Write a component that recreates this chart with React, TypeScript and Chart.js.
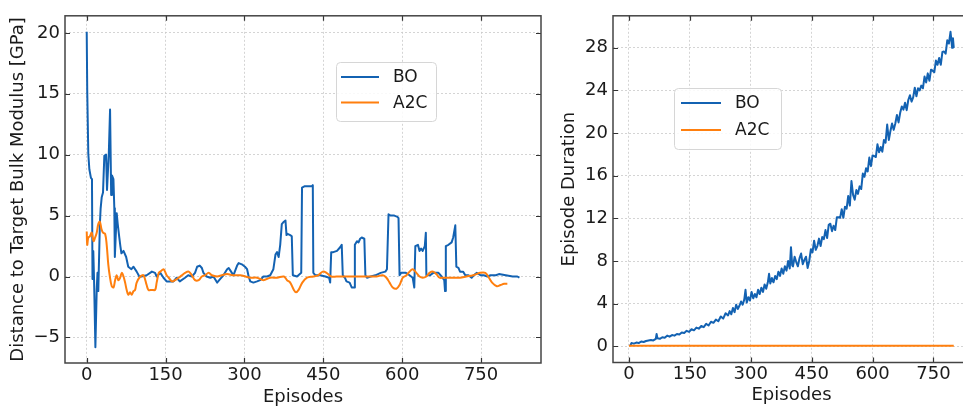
import React, { useEffect, useRef } from "react";
import { Chart, registerables } from "chart.js";
Chart.register(...registerables);

const FONT = '"DejaVu Sans", "Liberation Sans", sans-serif';
const BLUE = "#1362b2";
const ORANGE = "#ff7f0e";

// ---------- Left panel: distance to target bulk modulus ----------
const leftBoEpisodes = [0,1,3,5,8,10,11,12.5,14,16.5,19,20.5,22,25,26.5,28.5,31,33.5,36.8,38.6,42,44.4,45.7,46.5,48,50.8,52.5,53.5,57,59,62,64,66,70,75,79,85,89,95,100,104,114,124,130,133,140,146,152,165,171,177,187,193,200,206,210,215,219,222,228,235,241,248,254,260,267,270,273,279,286,289,295,301,305,308,311,317,324,330,336,343,349,355,359,362,365,368,371,375,378,380,382,387,390,392,400,408,409.5,414,428,430,431,435,444,454,461,463,465,469,476,482,485,487,491,494,500,504,509,510,514,517,520,523,528,530,533,540,549,559,568,571,574,578,585,591,593,595,598,607,614,620,623,625,630,633,636,639,643,645,646,653,659,669,675,680,681.5,683,688,694,697,701,703,707,710,716,720,726,732,736,742,749,755,762,768,778,784,797,810,819,823];
const leftBoValues = [20.1,15.2,10.1,8.8,8.1,8.0,-0.2,2.1,-0.3,-5.8,-1.1,0.3,-1.2,4.3,5.6,6.5,6.9,9.9,10.0,7.1,10.1,13.7,13.7,6.7,8.3,8.0,5.6,1.6,5.2,4.3,3.2,2.5,1.9,2.1,1.6,0.8,0.6,0.8,0.4,0,0,0.1,0.4,0.3,0,0.3,-0.1,-0.4,-0.4,-0.1,-0.4,-0.1,0.1,0,0.3,0.8,0.9,0.7,0.3,0,-0.1,0,-0.5,-0.2,0.1,0.6,0.7,0.5,0.1,0.9,1.1,1.0,0.8,0.6,0,-0.4,-0.5,-0.4,-0.3,0,0,0.1,0.6,1.8,2.0,1.6,2.6,4.3,4.5,4.6,3.4,3.5,3.4,3.3,0.1,0,0.3,7.3,7.4,7.4,7.5,0.3,0.1,0.1,0,-0.1,-0.5,2.0,2.0,2.1,2.4,2.6,0.1,-0.1,-0.4,-0.5,-0.9,-0.9,2.6,2.9,2.8,3.1,3.2,3.1,0.1,-0.1,0,0.1,0.3,0.4,0.6,5.1,5.0,5.0,4.9,4.8,0.1,0.3,0.3,0.1,-0.1,-0.9,2.5,2.6,2.1,2.3,2.1,2.5,3.6,0.1,0.1,0.3,0.3,0,-0.3,-1.2,2.5,2.6,2.8,3.2,4.2,0.8,0.7,0.4,0.4,0.1,0.1,-0.1,0.1,0.3,0.1,0.1,0,0.1,0.1,0.2,0.1,0,0,-0.1];
const leftA2cEpisodes = [0,1,3,6,9.5,13,16,19,22,25,28,31,35,38,41,44,47.6,51,54,57,60,63.5,66.7,70,73,76,79,82.4,85.6,89,92,95,102,108,114,117.5,124,130,133,137,140,146,149,152,156,162,168,175,181,187,194,200,206,213,219,225,232,238,248,257,267,279,292,302,311,324,336,349,362,375,381,387,394,398,403,410,419,431,440,449,456,465,475,487,500,513,525,538,551,563,570,576,582,589,595,601,608,614,620,627,633,639,646,652,659,665,671,678,684,697,710,722,735,748,758,765,771,780,787,794,800];
const leftA2cValues = [3.7,2.6,3.2,3.3,3.6,2.9,3.2,3.6,4.3,4.5,3.9,3.6,3.5,2.6,1.0,0,-0.8,-0.9,-0.3,0.1,-0.3,-0.1,0.3,0,-0.5,-1.1,-1.5,-1.3,-1.5,-1.2,-1.1,-0.5,0,0.1,-0.7,-1.1,-1.1,-1.1,-0.5,0.3,0.4,0.6,0.4,0.1,-0.1,-0.4,-0.3,-0.1,0.1,0.3,0.4,0.1,-0.3,-0.3,0,0.1,0.3,0.1,0,0.1,0.2,0.1,0.1,0,-0.1,-0.1,-0.3,-0.1,-0.1,0,-0.3,-0.5,-1.1,-1.3,-1.1,-0.5,-0.1,0,0.1,0.4,0.3,0,0,0,0,0,0,0,0,0.1,-0.1,-0.5,-0.9,-1.0,-0.7,-0.1,0.1,0.4,0.6,0.3,0,-0.1,0,0.3,0.4,0.2,-0.1,-0.1,-0.1,-0.1,-0.1,0,0.1,0.3,0.3,-0.1,-0.5,-0.8,-0.7,-0.6,-0.6];
const leftXTicks = [0, 150, 300, 450, 600, 750];
const leftYTicks = [-5, 0, 5, 10, 15, 20];

// ---------- Right panel: episode duration ----------
const rightBoEpisodes = [3,6,12,18,24,30,36,42,48,54,60,66,68,70,76,82,88,94,100,106,112,118,124,130,136,142,148,154,160,166,172,178,184,190,196,202,208,214,220,226,232,238,
  244,248,252,256,260,264,268,272,276,280,284,287,290,294,298,302,306,310,314,318,322,326,330,334,338,342,345,348,352,356,360,364,368,372,376,380,384,388,392,396,399,402,
  404,408,412,416,420,424,428,432,436,440,444,448,452,456,460,464,468,472,476,480,484,488,492,496,500,504,508,512,516,520,524,528,532,536,540,544,548,552,556,
  560,564,568,572,576,580,584,588,592,596,600,604,608,612,616,620,624,628,632,636,640,644,648,652,656,660,664,668,672,676,680,684,688,692,696,700,704,708,712,716,
  720,724,728,732,736,740,744,748,752,756,760,764,768,772,776,780,784,788,792,796,798,800];
const rightBoValues = [0.05,0.3,0.25,0.35,0.3,0.45,0.4,0.5,0.55,0.6,0.55,0.7,1.15,0.75,0.7,0.85,0.8,1.0,0.9,1.05,1.0,1.15,1.1,1.3,1.25,1.45,1.35,1.6,1.5,1.75,1.65,1.9,1.8,2.1,1.95,2.3,2.2,2.5,2.35,2.8,2.6,3.1,
  2.9,3.3,3.0,3.6,3.2,3.9,3.5,3.8,4.2,3.9,4.4,5.3,4.1,4.6,4.3,5.1,4.5,4.9,4.6,5.3,4.9,5.5,5.1,5.8,5.4,6.0,6.8,5.9,6.4,6.0,6.6,6.3,7.0,6.6,7.3,6.8,7.5,7.1,8.0,7.3,9.3,7.6,
  7.5,8.4,7.9,7.5,8.25,8.7,7.7,8.1,8.4,7.35,8.0,9.1,8.8,9.9,9.05,9.4,10.1,9.4,10.25,10.05,10.9,10.15,11.4,11.5,10.8,11.3,10.9,12.1,12.1,12.05,12.85,12.05,13.1,12.9,14.1,13.2,15.5,14.2,13.75,
  14.65,14.3,15.0,14.75,16.2,15.9,16.7,16.4,17.7,16.9,17.9,17.85,17.75,18.95,18.2,18.7,18.25,19.35,19.1,20.8,19.35,20.2,20.9,20.3,20.9,21.7,21.0,21.9,22.5,22.2,22.85,22.15,23.1,23.55,22.95,23.35,24.25,23.45,24.2,24.0,
  24.45,24.2,25.3,24.75,25.6,24.9,25.95,25.85,25.7,26.8,26.4,27.05,26.4,27.6,27.65,27.45,28.7,28.4,29.5,28.0,28.9,28.0];
const rightA2cEpisodes = [0, 200, 400, 600, 800];
const rightA2cValues = [0.06, 0.06, 0.06, 0.06, 0.06];
const rightXTicks = [0, 150, 300, 450, 600, 750];
const rightYTicks = [0, 4, 8, 12, 16, 20, 24, 28];

const seriesLabels = ["BO", "A2C"];

const toPoints = (xs: number[], ys: number[]) => xs.map((x, i) => ({ x, y: ys[i] }));
const fmt = (v: number) => (v < 0 ? "\u2212" + Math.abs(v) : String(v));

const framePlugin = {
  id: "frame",
  afterDraw(chart: any, _args: any, opts: any) {
    const { ctx, chartArea: a, scales } = chart;
    ctx.save();
    ctx.strokeStyle = "#333";
    ctx.lineWidth = 1.2;
    const tl = 5;
    scales.x.ticks.forEach((t: any) => {
      const px = Math.round(scales.x.getPixelForValue(t.value)) + 0.5;
      ctx.beginPath();
      ctx.moveTo(px, a.bottom); ctx.lineTo(px, a.bottom - tl);
      ctx.moveTo(px, a.top); ctx.lineTo(px, a.top + tl);
      ctx.stroke();
    });
    scales.y.ticks.forEach((t: any) => {
      const py = Math.round(scales.y.getPixelForValue(t.value)) + 0.5;
      ctx.beginPath();
      ctx.moveTo(a.left, py); ctx.lineTo(a.left + tl, py);
      ctx.moveTo(a.right, py); ctx.lineTo(a.right - tl, py);
      ctx.stroke();
    });
    ctx.strokeStyle = "#444";
    ctx.lineWidth = 1.5;
    ctx.strokeRect(a.left, a.top, a.right - a.left, a.bottom - a.top);

    const lg = opts && opts.box;
    if (lg) {
      ctx.beginPath();
      ctx.roundRect(lg.x + 0.5, lg.y + 0.5, lg.w, lg.h, 4);
      ctx.fillStyle = "rgba(255,255,255,0.85)";
      ctx.fill();
      ctx.strokeStyle = "#d6d6d6";
      ctx.lineWidth = 1;
      ctx.stroke();
      ctx.font = `17px ${FONT}`;
      ctx.textBaseline = "middle";
      ctx.textAlign = "left";
      chart.data.datasets.forEach((ds: any, i: number) => {
        const ry = lg.rows[i];
        ctx.strokeStyle = ds.borderColor;
        ctx.lineWidth = 2;
        ctx.beginPath();
        ctx.moveTo(lg.lineX1, ry); ctx.lineTo(lg.lineX2, ry);
        ctx.stroke();
        ctx.fillStyle = "#1a1a1a";
        ctx.fillText(ds.label, lg.textX, ry + 1);
      });
    }
    ctx.restore();
  },
};

function makeConfig(p: any) {
  return {
    type: "line",
    data: {
      datasets: [
        {
          label: seriesLabels[0],
          data: toPoints(p.boX, p.boY),
          borderColor: BLUE,
          backgroundColor: BLUE,
          borderWidth: 2,
          pointRadius: 0,
          tension: 0,
          borderJoinStyle: "round",
          order: 2,
        },
        {
          label: seriesLabels[1],
          data: toPoints(p.a2cX, p.a2cY),
          borderColor: ORANGE,
          backgroundColor: ORANGE,
          borderWidth: 2,
          pointRadius: 0,
          tension: 0.35,
          borderJoinStyle: "round",
          order: 1,
        },
      ],
    },
    options: {
      responsive: false,
      maintainAspectRatio: false,
      animation: false,
      events: [],
      layout: { padding: p.padding },
      plugins: {
        legend: { display: false },
        tooltip: { enabled: false },
        frame: { box: p.legend },
      },
      scales: {
        x: {
          type: "linear",
          min: p.xMin,
          max: p.xMax,
          bounds: "data",
          afterBuildTicks: (s: any) => { s.ticks = p.xTicks.map((v: number) => ({ value: v })); },
          afterFit: (s: any) => { s.height = p.xAxisH; },
          grid: { color: "#c9c9c9", lineWidth: 0.8, drawTicks: false },
          border: { display: false, dash: [2, 2] },
          ticks: {
            padding: p.xTickPad,
            color: "#1a1a1a",
            font: { family: FONT, size: 18, lineHeight: 1.2 },
            maxRotation: 0,
            autoSkip: false,
            callback: (v: number) => fmt(v),
          },
          title: {
            display: true,
            text: "Episodes",
            color: "#1a1a1a",
            font: { family: FONT, size: 18, lineHeight: 1.2 },
            padding: { top: 0, bottom: p.xTitlePad },
          },
        },
        y: {
          type: "linear",
          min: p.yMin,
          max: p.yMax,
          bounds: "data",
          afterBuildTicks: (s: any) => { s.ticks = p.yTicks.map((v: number) => ({ value: v })); },
          afterFit: (s: any) => { s.width = p.yAxisW; },
          grid: { color: "#c9c9c9", lineWidth: 0.8, drawTicks: false },
          border: { display: false, dash: [2, 2] },
          ticks: {
            padding: 5,
            color: "#1a1a1a",
            font: { family: FONT, size: 18, lineHeight: 1.2 },
            autoSkip: false,
            callback: (v: number) => fmt(v),
          },
          title: {
            display: true,
            text: p.yTitle,
            color: "#1a1a1a",
            font: { family: FONT, size: 18, lineHeight: 1.2 },
            padding: { top: p.yTitlePad, bottom: 0 },
          },
        },
      },
    },
    plugins: [framePlugin],
  } as any;
}

export default function App() {
  const leftRef = useRef<HTMLCanvasElement | null>(null);
  const rightRef = useRef<HTMLCanvasElement | null>(null);

  useEffect(() => {
    const left = new Chart(
      leftRef.current as HTMLCanvasElement,
      makeConfig({
        boX: leftBoEpisodes, boY: leftBoValues, a2cX: leftA2cEpisodes, a2cY: leftA2cValues,
        xTicks: leftXTicks, yTicks: leftYTicks,
        xMin: -41.3, xMax: 864, yMin: -7.1, yMax: 21.4,
        padding: { left: 0, top: 7, right: 14, bottom: 0 },
        yAxisW: 65, xAxisH: 48, xTickPad: 2, xTitlePad: 3, yTitlePad: 8,
        yTitle: "Distance to Target Bulk Modulus [GPa]",
        legend: { x: 336, y: 62, w: 100, h: 59, lineX1: 341, lineX2: 379, textX: 393, rows: [77, 102.5] },
      })
    );
    const right = new Chart(
      rightRef.current as HTMLCanvasElement,
      makeConfig({
        boX: rightBoEpisodes, boY: rightBoValues, a2cX: rightA2cEpisodes, a2cY: rightA2cValues,
        xTicks: rightXTicks, yTicks: rightYTicks,
        xMin: -39.4, xMax: 840, yMin: -1.52, yMax: 31.0,
        padding: { left: 0, top: 7, right: 5, bottom: 0 },
        yAxisW: 58, xAxisH: 48.5, xTickPad: 1, xTitlePad: 5, yTitlePad: 4,
        yTitle: "Episode Duration",
        legend: { x: 119, y: 88, w: 107, h: 61, lineX1: 126, lineX2: 166, textX: 180, rows: [103, 130] },
      })
    );
    return () => {
      left.destroy();
      right.destroy();
    };
  }, []);

  return (
    <div style={{ position: "absolute", left: 0, top: 0, width: 963, height: 411, overflow: "hidden", background: "#fff" }}>
      <canvas ref={leftRef} width={555} height={411} style={{ position: "absolute", left: 0, top: 0, width: 555, height: 411 }} />
      <canvas ref={rightRef} width={420} height={411} style={{ position: "absolute", left: 555, top: 0, width: 420, height: 411 }} />
    </div>
  );
}
